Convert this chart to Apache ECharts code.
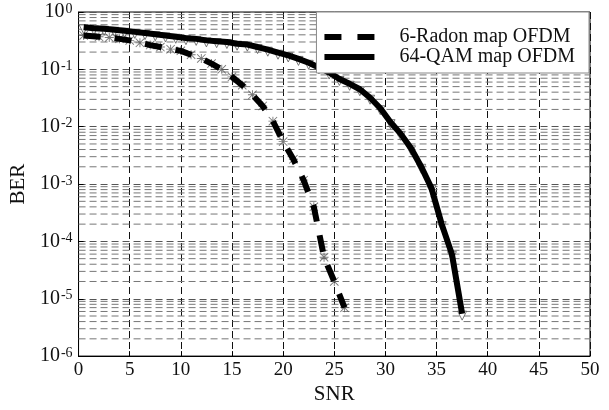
<!DOCTYPE html>
<html>
<head>
<meta charset="utf-8">
<script src="https://cdn.jsdelivr.net/npm/echarts@6/dist/echarts.min.js"></script>
<style>html,body{margin:0;padding:0;background:#fff;}#c{width:609px;height:410px;}</style>
</head>
<body>
<div id="c"></div>
<script>
// ---- data ----
const radonSnr = [0.5, 2, 3, 4, 5, 6, 7, 8, 9, 10, 11, 12, 13, 14, 15, 16, 17, 18, 19, 20, 21, 22, 23, 24, 25, 26];
const radonBer = [0.39, 0.37, 0.36, 0.34, 0.32, 0.29, 0.265, 0.245, 0.225, 0.21, 0.18, 0.155, 0.126, 0.10, 0.074, 0.053, 0.036, 0.023, 0.0125, 0.0055, 0.0027, 0.00117, 0.0004, 5.3e-5, 2.0e-5, 7e-6];
const qamSnr = [0.5, 1.5, 2.5, 3.5, 4.5, 5.5, 6.5, 7.5, 8.5, 9.5, 10.5, 11.5, 12.5, 13.5, 14.5, 15.5, 16.5, 17.5, 18.5, 19.5, 20.5, 21.5, 22.5, 23.5, 24.5, 25.5, 26.5, 27.5, 28.5, 29.5, 30.5, 31.5, 32.5, 33.5, 34.5, 35.5, 36.5, 37.5];
const qamBer = [0.54, 0.52, 0.51, 0.49, 0.47, 0.45, 0.43, 0.41, 0.39, 0.37, 0.35, 0.34, 0.32, 0.31, 0.30, 0.28, 0.27, 0.245, 0.22, 0.195, 0.175, 0.152, 0.13, 0.108, 0.088, 0.068, 0.056, 0.045, 0.032, 0.021, 0.012, 0.0075, 0.0042, 0.002, 0.00085, 0.0002, 6e-5, 5.5e-6];
const seriesNames = ['6-Radon map OFDM', '64-QAM map OFDM'];
const xTicks = [0, 5, 10, 15, 20, 25, 30, 35, 40, 45, 50];
const yDecades = [0, -1, -2, -3, -4, -5, -6];
const minorMantissas = [2, 3, 4, 5, 6, 7, 8, 9];

const pairs = (xs, ys) => xs.map((x, i) => [x, ys[i]]);
const minorValues = [];
yDecades.slice(1).forEach(e => minorMantissas.forEach(m => minorValues.push(+(m * Math.pow(10, e)).toPrecision(3))));

const serif = '"Liberation Serif", "DejaVu Serif", serif';
const asterisk = 'path://M9 0L11 0L11 20L9 20Z M0 9L20 9L20 11L0 11Z M0 1.4L1.4 0L20 18.6L18.6 20Z M18.6 0L20 1.4L1.4 20L0 18.6Z';

const gridSeries = minorValues.map(v => ({
  name: 'g' + v, type: 'line', silent: true, symbol: 'none', z: 1,
  data: [[0, v], [50, v]],
  lineStyle: { color: '#777', type: [7, 4], width: 1 }
}));

const chart = echarts.init(document.getElementById('c'), null, { renderer: 'canvas' });
chart.setOption({
  animation: false,
  backgroundColor: '#fff',
  textStyle: { fontFamily: serif },
  grid: { left: 78, right: 19, top: 12, bottom: 50, show: true, borderColor: '#000', borderWidth: 1, backgroundColor: 'transparent' },
  legend: {
    data: [
      { name: seriesNames[0], lineStyle: { type: [17, 16], width: 6, color: '#000' } },
      { name: seriesNames[1], lineStyle: { type: 'solid', width: 6, color: '#000' } }
    ],
    orient: 'vertical',
    right: 20, top: 12,
    itemWidth: 50, itemHeight: 14, itemGap: 0,
    padding: [15, 14, 6, 5],
    backgroundColor: '#fff', borderColor: '#888', borderWidth: 1,
    itemStyle: { opacity: 0 },
    textStyle: { fontFamily: serif, fontSize: 20, color: '#111', padding: [0, 0, 0, 20] }
  },
  xAxis: {
    type: 'value', min: 0, max: 50, interval: 5,
    name: 'SNR', nameLocation: 'middle', nameGap: 27,
    nameTextStyle: { fontFamily: serif, fontSize: 21, color: '#111' },
    axisLine: { show: true, lineStyle: { color: '#000' } },
    axisTick: { show: true, inside: true, length: 5, lineStyle: { color: '#000' } },
    axisLabel: { fontFamily: serif, fontSize: 19, color: '#111', margin: 4,
      formatter: v => (xTicks.indexOf(v) >= 0 ? String(v) : '') },
    splitLine: { show: true, lineStyle: { color: '#111', type: [7, 4], width: 1 } }
  },
  yAxis: {
    type: 'log', logBase: 10, min: 1e-6, max: 1, interval: 1,
    name: 'BER', nameLocation: 'middle', nameGap: 47,
    nameTextStyle: { fontFamily: serif, fontSize: 21, color: '#111' },
    axisLine: { show: true, lineStyle: { color: '#000' } },
    axisTick: { show: true, inside: true, length: 5, lineStyle: { color: '#000' } },
    axisLabel: {
      margin: 6,
      formatter: v => '{b|10}{s|' + Math.round(Math.log10(v)) + '}',
      rich: {
        b: { fontFamily: serif, fontSize: 20, color: '#111', lineHeight: 20 },
        s: { fontFamily: serif, fontSize: 14, color: '#111', verticalAlign: 'top', lineHeight: 20, padding: [0, 0, 6, 1] }
      }
    },
    splitLine: { show: true, lineStyle: { color: '#555', type: [7, 4], width: 1 } }
  },
  series: gridSeries.concat([
    {
      name: 'radonMarks', type: 'scatter', data: pairs(radonSnr, radonBer), z: 2,
      symbol: asterisk, symbolSize: 9, itemStyle: { color: '#555' }, silent: true
    },
    {
      name: 'qamMarks', type: 'scatter', data: pairs(qamSnr, qamBer), z: 2,
      symbol: 'triangle', symbolRotate: 180, symbolSize: 9, symbolOffset: [0, 2],
      itemStyle: { color: '#fff', borderColor: '#555', borderWidth: 1 }, silent: true
    },
    {
      name: seriesNames[0], type: 'line', data: pairs(radonSnr, radonBer), z: 3,
      symbol: 'none', color: '#000',
      lineStyle: { color: '#000', width: 6, type: [17, 14], cap: 'butt' }
    },
    {
      name: seriesNames[1], type: 'line', data: pairs(qamSnr, qamBer), z: 3,
      symbol: 'none', color: '#000',
      lineStyle: { color: '#000', width: 6, type: 'solid' }
    }
  ])
});
</script>
</body>
</html>
